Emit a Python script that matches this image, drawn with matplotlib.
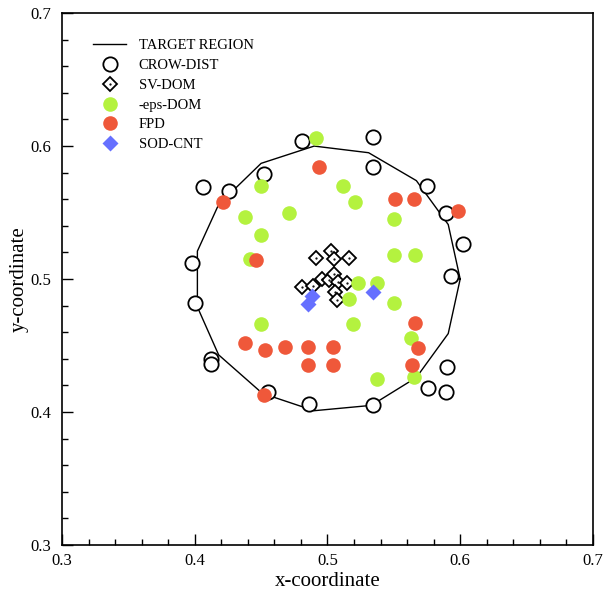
import numpy as np
import matplotlib
matplotlib.use('Agg')
import matplotlib.pyplot as plt
from matplotlib.ticker import MultipleLocator
from matplotlib.legend_handler import HandlerTuple

plt.rcParams['font.family'] = ['Liberation Serif', 'DejaVu Serif']

# target region outline (closed polygon)
target_x = [0.600, 0.591, 0.567, 0.531, 0.490, 0.450, 0.418, 0.402, 0.402, 0.418,
            0.451, 0.490, 0.533, 0.567, 0.591, 0.600]
target_y = [0.500, 0.541, 0.574, 0.595, 0.600, 0.587, 0.556, 0.521, 0.479, 0.443,
            0.414, 0.401, 0.405, 0.426, 0.459, 0.500]

crow_x = [0.481, 0.452, 0.406, 0.426, 0.398, 0.400, 0.412, 0.412, 0.455, 0.486,
          0.534, 0.576, 0.589, 0.590, 0.593, 0.602, 0.589, 0.575, 0.534, 0.534]
crow_y = [0.604, 0.579, 0.569, 0.566, 0.512, 0.482, 0.440, 0.436, 0.415, 0.406,
          0.405, 0.418, 0.415, 0.434, 0.502, 0.526, 0.550, 0.570, 0.584, 0.607]

sv_x = [0.503, 0.491, 0.505, 0.516, 0.481, 0.489, 0.496, 0.501, 0.505, 0.508,
        0.515, 0.506, 0.507]
sv_y = [0.521, 0.516, 0.515, 0.516, 0.494, 0.495, 0.500, 0.499, 0.504, 0.498,
        0.497, 0.490, 0.484]

eps_x = [0.491, 0.450, 0.438, 0.471, 0.450, 0.442, 0.512, 0.521, 0.550, 0.550,
         0.566, 0.450, 0.523, 0.537, 0.516, 0.550, 0.519, 0.563, 0.537, 0.565]
eps_y = [0.606, 0.570, 0.547, 0.550, 0.533, 0.515, 0.570, 0.558, 0.545, 0.518,
         0.518, 0.466, 0.497, 0.497, 0.485, 0.482, 0.466, 0.456, 0.425, 0.426]

fpd_x = [0.494, 0.421, 0.446, 0.551, 0.565, 0.598, 0.438, 0.453, 0.468, 0.485,
         0.485, 0.504, 0.504, 0.452, 0.566, 0.568, 0.564]
fpd_y = [0.584, 0.558, 0.514, 0.560, 0.560, 0.551, 0.452, 0.447, 0.449, 0.449,
         0.435, 0.449, 0.435, 0.413, 0.467, 0.448, 0.435]

sod_x = [0.488, 0.485, 0.534]
sod_y = [0.487, 0.481, 0.490]

green = '#b4f23f'
red = '#ef583a'
blue = '#6670ff'

fig = plt.figure(figsize=(6.05, 5.95), dpi=100)
ax = fig.add_axes([0.1025, 0.084, 0.8775, 0.894])

line_t, = ax.plot(target_x, target_y, color='black', lw=1.0, zorder=2)
h_crow, = ax.plot(crow_x, crow_y, 'o', ms=10.3, mfc='white', mec='black', mew=1.3,
                  ls='none', zorder=3)
h_sv, = ax.plot(sv_x, sv_y, 'D', ms=7.5, mfc='white', mec='black', mew=1.3,
                ls='none', zorder=4)
h_svdot, = ax.plot(sv_x, sv_y, '.', ms=1.2, color='black', ls='none', zorder=4)
h_eps, = ax.plot(eps_x, eps_y, 'o', ms=10.5, color=green, mec='none',
                 ls='none', zorder=5)
h_fpd, = ax.plot(fpd_x, fpd_y, 'o', ms=10.5, color=red, mec='none',
                 ls='none', zorder=6)
h_sod, = ax.plot(sod_x, sod_y, 'D', ms=8.3, color=blue, mec='none',
                 ls='none', zorder=7)

ax.set_xlim(0.3, 0.7)
ax.set_ylim(0.3, 0.7)
ax.xaxis.set_major_locator(MultipleLocator(0.1))
ax.xaxis.set_minor_locator(MultipleLocator(0.02))
ax.yaxis.set_major_locator(MultipleLocator(0.1))
ax.yaxis.set_minor_locator(MultipleLocator(0.02))
ax.tick_params(which='both', direction='in', top=False, right=False, labelsize=12)
ax.tick_params(which='major', length=8, width=1.0)
ax.tick_params(which='minor', length=4, width=1.0)
ax.tick_params(axis='x', pad=6)
ax.tick_params(axis='y', pad=8)
for s in ax.spines.values():
    s.set_linewidth(1.2)

ax.set_xlabel('x-coordinate', fontsize=15, labelpad=2)
ax.set_ylabel('y-coordinate', fontsize=15, labelpad=1)

ax.legend([line_t, h_crow, (h_sv, h_svdot), h_eps, h_fpd, h_sod],
          ['TARGET REGION', 'CROW-DIST', 'SV-DOM', '-eps-DOM', 'FPD', 'SOD-CNT'],
          handler_map={tuple: HandlerTuple(ndivide=1, pad=0)},
          loc='upper left', bbox_to_anchor=(0.058, 0.951), borderaxespad=0,
          borderpad=0, frameon=False, fontsize=10.5, handlelength=2.3,
          handletextpad=0.85, labelspacing=0.45)

fig.savefig('out.png', dpi=100)
